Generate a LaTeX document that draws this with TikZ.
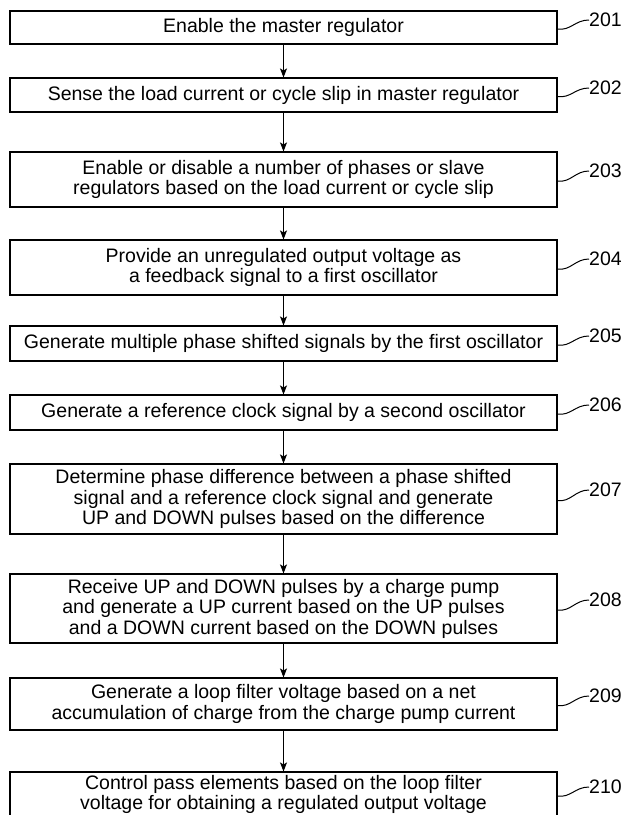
\documentclass[tikz,border=0pt]{standalone}
\usepackage{fontspec}
\setmainfont{Liberation Sans}
\usetikzlibrary{arrows.meta}
\begin{document}
\begin{tikzpicture}[x=1bp,y=-1bp,
  stepbox/.style={draw, line width=1.1bp, minimum width=547bp, inner sep=0pt, align=center,
    font=\fontsize{19.5bp}{20.5bp}\selectfont},
  lbl/.style={anchor=west, inner sep=0pt, font=\fontsize{19.5bp}{20.5bp}\selectfont},
  flow/.style={draw, line width=1.1bp, -{Stealth[length=9bp,width=7bp,inset=2bp]}},
  lead/.style={draw, line width=1bp}]
\useasboundingbox (0,0) rectangle (626,815);
\clip (0,0) rectangle (626,815);
\fill[white] (0,0) rectangle (626,815);

\node[stepbox, minimum height=33bp] (b201) at (283.5,27.5) {Enable the master regulator};
\node[stepbox, minimum height=34bp] (b202) at (283.5,95) {Sense the load current or cycle slip in master regulator};
\node[stepbox, minimum height=55bp] (b203) at (283.5,179.5) {Enable or disable a number of phases or slave\\regulators based on the load current or cycle slip};
\node[stepbox, minimum height=55bp] (b204) at (283.5,267.5) {Provide an unregulated output voltage as\\a feedback signal to a first oscillator};
\node[stepbox, minimum height=35bp] (b205) at (283.5,343.5) {Generate multiple phase shifted signals by the first oscillator};
\node[stepbox, minimum height=35bp] (b206) at (283.5,412.5) {Generate a reference clock signal by a second oscillator};
\node[stepbox, minimum height=70bp] (b207) at (283.5,499) {Determine phase difference between a phase shifted\\signal and a reference clock signal and generate\\UP and DOWN pulses based on the difference};
\node[stepbox, minimum height=69bp] (b208) at (283.5,608.5) {Receive UP and DOWN pulses by a charge pump\\and generate a UP current based on the UP pulses\\and a DOWN current based on the DOWN pulses};
\node[stepbox, minimum height=52bp] (b209) at (283.5,704) {Generate a loop filter voltage based on a net\\accumulation of charge from the charge pump current};
\node[stepbox, minimum height=45bp] (b210) at (283.5,794.5) {Control pass elements based on the loop filter\\voltage for obtaining a regulated output voltage};

\foreach \a/\b in {b201/b202,b202/b203,b203/b204,b204/b205,b205/b206,b206/b207,b207/b208,b208/b209,b209/b210}
  \draw[flow] (\a) -- (\b);

\foreach \n/\yl in {201/20,202/88,203/171,204/259,205/336,206/405,207/490,208/600,209/696,210/787}{
  \node[lbl] (l\n) at (589,\yl) {\n};
  \draw[lead] ([yshift=-1.5bp]b\n.east) .. controls +(13,2) and +(-14,0) .. (l\n.west);
}
\end{tikzpicture}
\end{document}
